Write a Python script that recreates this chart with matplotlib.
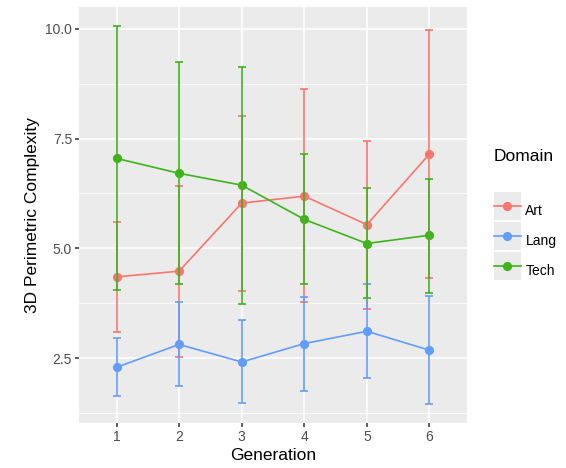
import matplotlib
matplotlib.use("Agg")
import matplotlib.pyplot as plt
from matplotlib.lines import Line2D
from matplotlib.patches import Rectangle
from matplotlib.legend_handler import HandlerLine2D

plt.rcParams['font.family'] = ['Liberation Sans', 'DejaVu Sans']

generations = [1, 2, 3, 4, 5, 6]
domains = ["Art", "Lang", "Tech"]
colors = {"Art": "#F8766D", "Lang": "#619CFF", "Tech": "#3DB31C"}

art_mean = [4.35, 4.48, 6.03, 6.19, 5.54, 7.15]
art_low = [3.09, 2.52, 4.03, 3.78, 3.61, 4.33]
art_high = [5.60, 6.43, 8.02, 8.63, 7.45, 9.97]

lang_mean = [2.29, 2.81, 2.41, 2.83, 3.11, 2.68]
lang_low = [1.63, 1.86, 1.47, 1.76, 2.04, 1.45]
lang_high = [2.95, 3.77, 3.37, 3.89, 4.18, 3.92]

tech_mean = [7.05, 6.71, 6.44, 5.66, 5.11, 5.30]
tech_low = [4.05, 4.18, 3.74, 4.18, 3.86, 3.99]
tech_high = [10.07, 9.25, 9.13, 7.14, 6.38, 6.59]

series = {
    "Art": (art_mean, art_low, art_high),
    "Lang": (lang_mean, lang_low, lang_high),
    "Tech": (tech_mean, tech_low, tech_high),
}

fig = plt.figure(figsize=(5.66, 4.68), dpi=100)
W, H = 566, 468
ax = fig.add_axes([79 / W, (H - 423) / H, 388 / W, 416 / H])
ax.set_facecolor("#EBEBEB")
for s in ax.spines.values():
    s.set_visible(False)

yticks = [2.5, 5.0, 7.5, 10.0]
minor_y = [1.25, 3.75, 6.25, 8.75]
for y in yticks:
    ax.axhline(y, color="white", lw=1.1, zorder=0)
for y in minor_y:
    ax.axhline(y, color="white", lw=0.55, zorder=0)
for x in generations:
    ax.axvline(x, color="white", lw=1.1, zorder=0)

for d in domains:
    m, lo, hi = series[d]
    c = colors[d]
    ax.plot(generations, m, color=c, lw=1.2, zorder=2)
    ax.plot(generations, m, 'o', color=c, ms=5.6, zorder=3)
for d in domains:
    m, lo, hi = series[d]
    c = colors[d]
    yerr = [[mm - l for mm, l in zip(m, lo)], [h - mm for mm, h in zip(m, hi)]]
    ax.errorbar(generations, m, yerr=yerr, fmt='none', ecolor=c, elinewidth=1.4,
                capsize=3, capthick=1.4, alpha=0.85, zorder=4)

ax.set_xlim(0.4, 6.6)
ax.set_ylim(1.02, 10.50)
ax.set_xticks(generations)
ax.set_xticklabels([str(g) for g in generations])
ax.set_yticks(yticks)
ax.set_yticklabels(["2.5", "5.0", "7.5", "10.0"])
ax.tick_params(axis='both', colors="#333333", labelcolor="#4D4D4D", labelsize=10,
               length=3, width=1.1, pad=2)
ax.set_xlabel("Generation", fontsize=12.5, color="black", labelpad=3)
ax.set_ylabel("3D Perimetric Complexity", fontsize=12.5, color="black", labelpad=4)


class KeyHandler(HandlerLine2D):
    def create_artists(self, legend, orig_handle, xdescent, ydescent, width, height,
                       fontsize, trans):
        arts = super().create_artists(legend, orig_handle, xdescent, ydescent, width,
                                      height, fontsize, trans)
        yc = (height - ydescent) / 2
        r = Rectangle((-xdescent, yc - height / 2), width, height, facecolor="#EBEBEB",
                      edgecolor="none", transform=trans)
        return [r] + list(arts)


handles = [Line2D([0], [0], color=colors[d], lw=1.2, marker='o', ms=5.6) for d in domains]
leg = fig.legend(handles, domains, loc="upper left", bbox_to_anchor=(481 / W, 1 - 136 / H),
                 frameon=False, fontsize=10, title="Domain", title_fontsize=12.5,
                 handlelength=2.0, handleheight=2.73, labelspacing=0.15, handletextpad=0.3,
                 alignment="left", handler_map={Line2D: KeyHandler()})
leg._legend_box.sep = 24

fig.savefig("out.png", dpi=100)
